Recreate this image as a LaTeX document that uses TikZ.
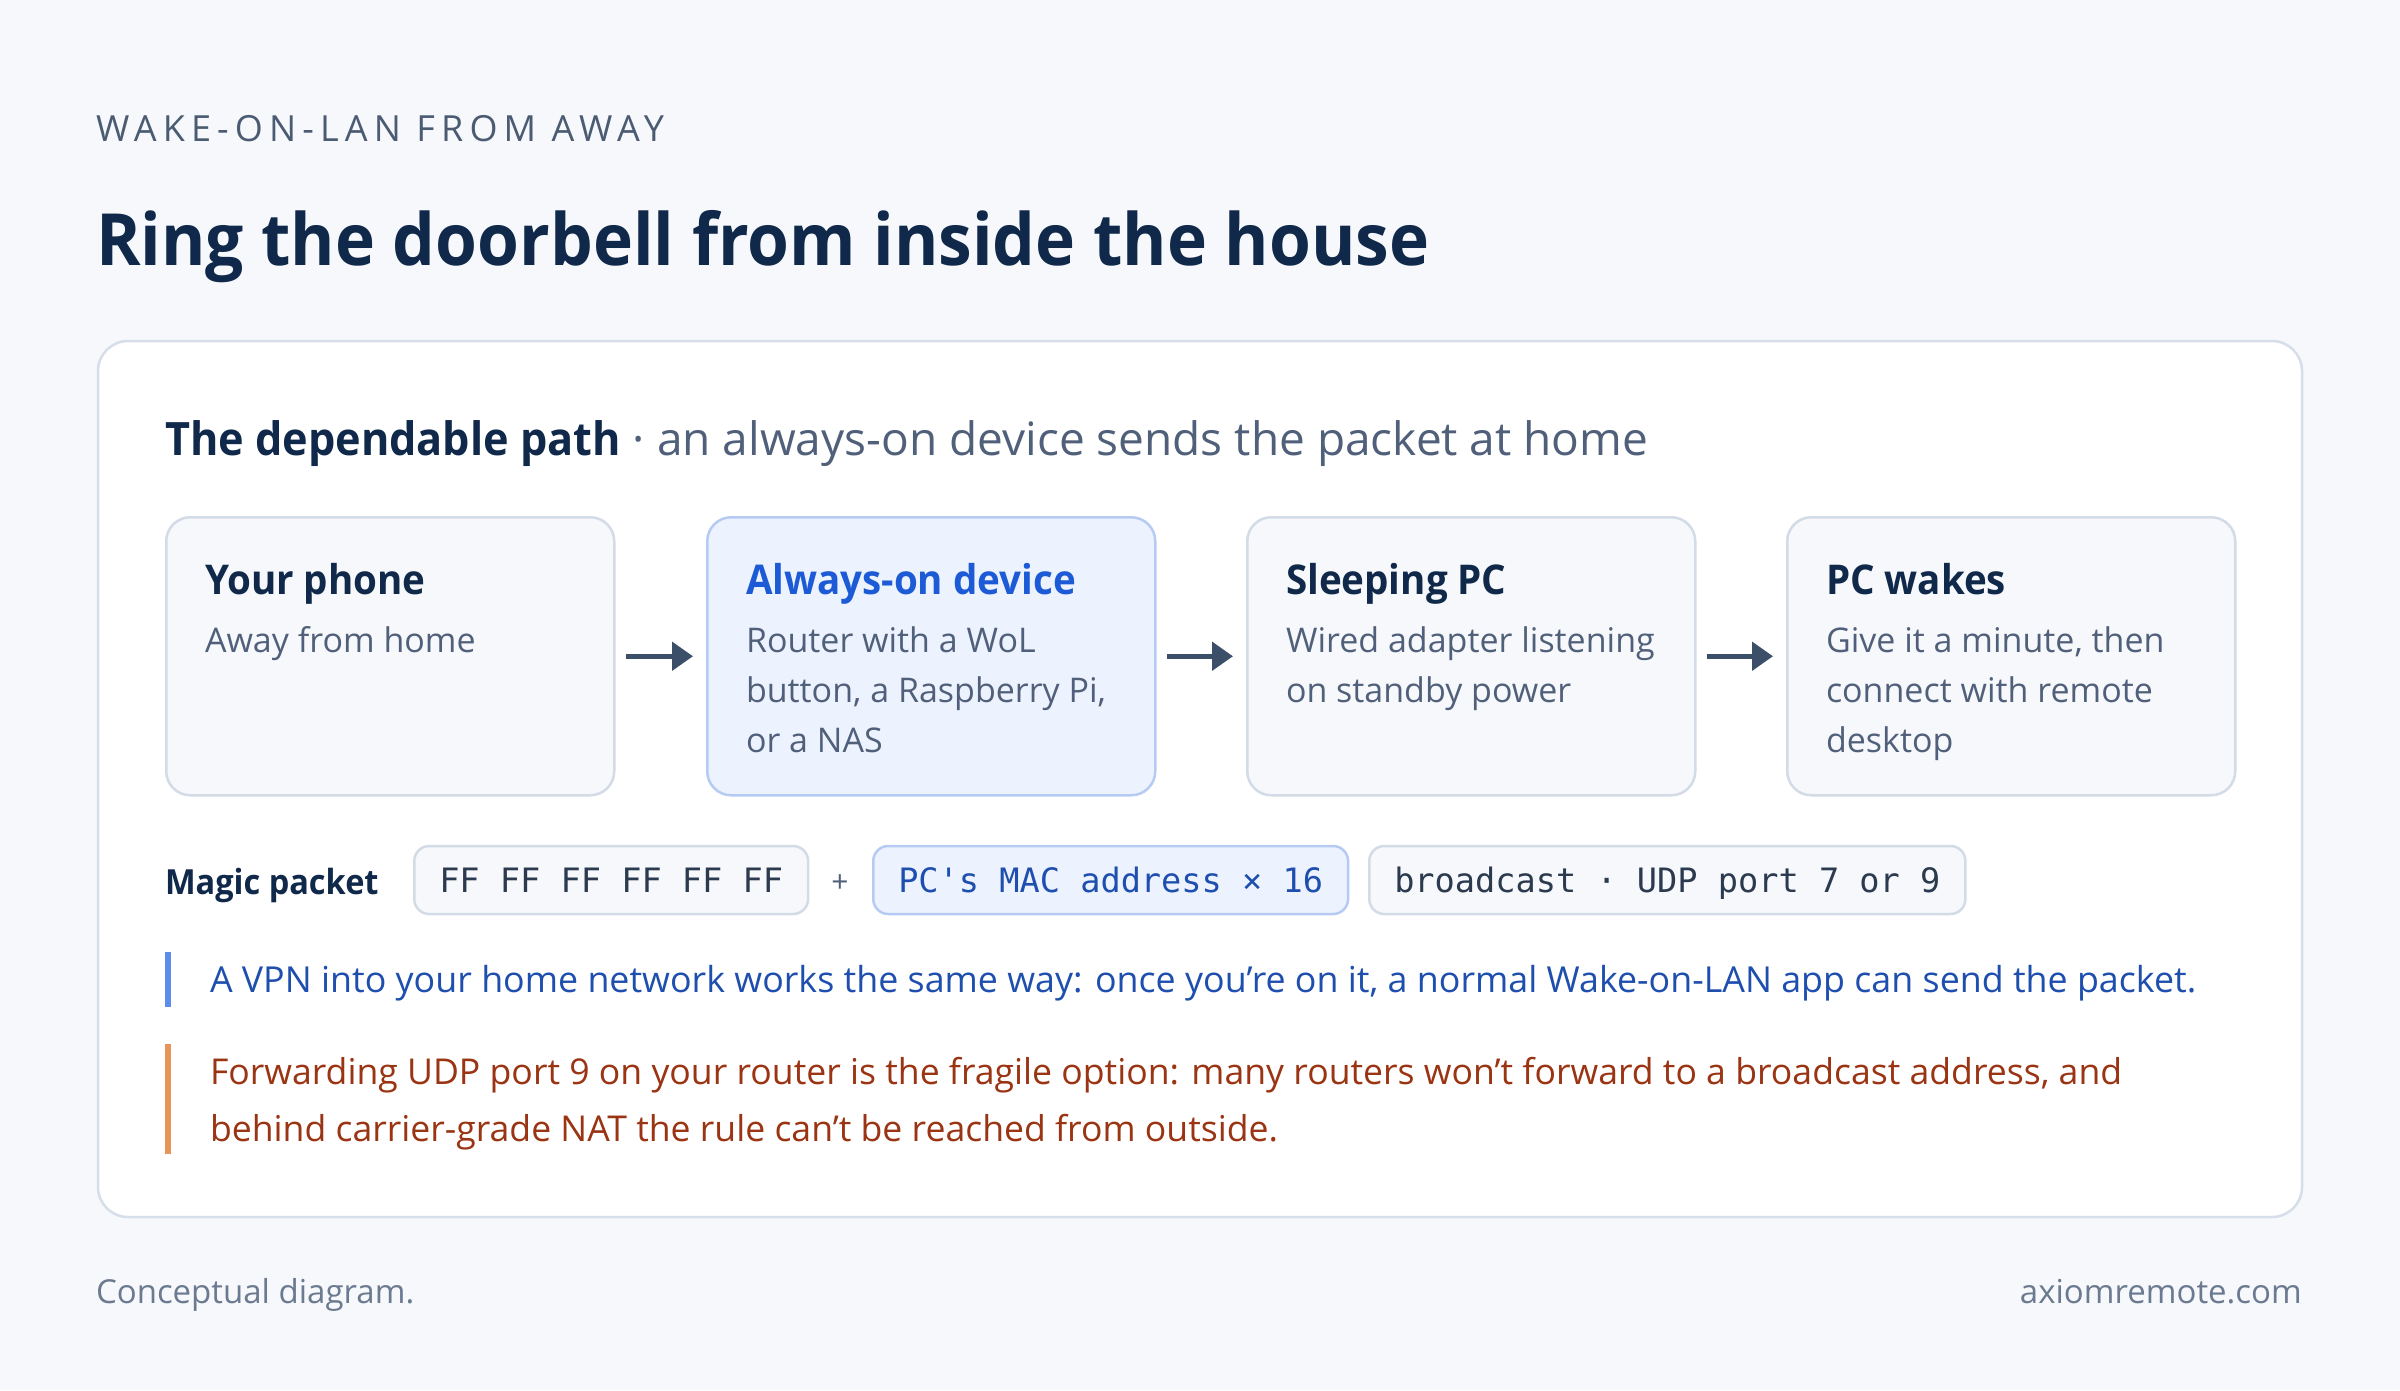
\documentclass[tikz,border=0pt]{standalone}
\usepackage{fontspec}
\setmainfont{Open Sans}[BoldFeatures={FakeStretch=0.94}]
\setmonofont{DejaVu Sans Mono}
\usetikzlibrary{arrows.meta}
\definecolor{bg}{HTML}{F6F8FB}
\definecolor{cardborder}{HTML}{D6DEEA}
\definecolor{navy}{HTML}{10294A}
\definecolor{slate}{HTML}{4A5B72}
\definecolor{greytext}{HTML}{51607A}
\definecolor{bluetitle}{HTML}{1D5BD6}
\definecolor{bluefill}{HTML}{EDF3FE}
\definecolor{blueborder}{HTML}{B5CBF3}
\definecolor{boxfill}{HTML}{F6F8FB}
\definecolor{boxborder}{HTML}{D3DBE7}
\definecolor{arrowc}{HTML}{3B4F69}
\definecolor{barblue}{HTML}{5B8DEF}
\definecolor{textblue}{HTML}{1E4FAE}
\definecolor{barorange}{HTML}{E8955A}
\definecolor{textrust}{HTML}{9A3412}
\definecolor{footgrey}{HTML}{6B7A90}
\definecolor{monotext}{HTML}{2B3A4E}
\newcommand{\fs}[2]{\fontsize{#1}{#2}\selectfont}
\newcommand{\lines}[1]{\begin{tabular}[t]{@{}l@{}}#1\end{tabular}}
\begin{document}
\begin{tikzpicture}[x=1pt,y=-1pt,
  txt/.style={anchor=base west,inner sep=0pt,outer sep=0pt},
  stepbox/.style={draw=boxborder,fill=boxfill,line width=2.5pt,rounded corners=24pt,minimum width=448pt,minimum height=278pt,anchor=north west,inner sep=0pt},
  hibox/.style={stepbox,draw=blueborder,fill=bluefill},
  pill/.style={draw=boxborder,fill=boxfill,line width=2.5pt,rounded corners=15pt,minimum height=68pt,inner xsep=25pt,inner ysep=0pt,text height=33pt,text depth=8pt,anchor=west,font=\ttfamily\fs{33.6}{40},text=monotext},
  hipill/.style={pill,draw=blueborder,fill=bluefill,text=textblue},
  flow/.style={draw=arrowc,line width=5pt,-{Triangle[length=21pt,width=28pt]}},
  steptitle/.style={txt,font=\bfseries\fs{41}{50},text=navy},
  steptext/.style={txt,font=\fs{34}{50},text=greytext}
]
\useasboundingbox (0,0) rectangle (2400,1390);
\fill[bg] (0,0) rectangle (2400,1390);

\node[txt,font=\fs{36}{40}\addfontfeatures{LetterSpace=17},text=slate] (eyebrow) at (96,141) {WAKE-ON-LAN FROM AWAY};
\node[txt,font=\bfseries\fs{72}{90},text=navy] (title) at (96,265) {Ring the doorbell from inside the house};

\draw[draw=cardborder,fill=white,line width=2.5pt,rounded corners=30pt] (98,341) rectangle (2302,1217);

\node[txt,font=\fs{46}{56},text=greytext] (heading) at (165,455) {\textcolor{navy}{\bfseries The dependable path} · an always-on device sends the packet at home};

\node[stepbox] (s1) at (165,516) {};
\node[hibox]   (s2) at (706,516) {};
\node[stepbox] (s3) at (1246,516) {};
\node[stepbox] (s4) at (1786,516) {};

\node[steptitle] (t1) at (205,594) {Your phone};
\node[steptext] (d1) at (205,652) {Away from home};
\node[steptitle,text=bluetitle] (t2) at (746,594) {Always-on device};
\node[steptext] (d2) at (746,652) {\lines{Router with a WoL\\button, a Raspberry Pi,\\or a NAS}};
\node[steptitle] (t3) at (1286,594) {Sleeping PC};
\node[steptext] (d3) at (1286,652) {\lines{Wired adapter listening\\on standby power}};
\node[steptitle] (t4) at (1826,594) {PC wakes};
\node[steptext] (d4) at (1826,652) {\lines{Give it a minute, then\\connect with remote\\desktop}};

\draw[flow,shorten <=10pt,shorten >=13pt] (s1.east) -- (s2.west);
\draw[flow,shorten <=10pt,shorten >=13pt] (s2.east) -- (s3.west);
\draw[flow,shorten <=10pt,shorten >=13pt] (s3.east) -- (s4.west);

\node[txt,font=\bfseries\fs{34.6}{40},text=navy] (magic) at (165,894) {Magic packet};
\node[pill] (p1) at (413,880) {FF FF FF FF FF FF};
\node[anchor=center,inner sep=0pt,font=\fs{30}{36},text=greytext] (plus) at (840,884) {+};
\node[hipill] (p2) at (872,880) {PC's MAC address × 16};
\node[pill] (p3) at (1368,880) {broadcast · UDP port 7 or 9};

\fill[barblue] (165,952) rectangle (171,1007);
\node[txt,font=\fs{35.8}{57},text=textblue] (n1) at (210,992) {A VPN into your home network works the same way: once you're on it, a normal Wake-on-LAN app can send the packet.};
\fill[barorange] (165,1044) rectangle (171,1154);
\node[txt,font=\fs{35.6}{57},text=textrust] (n2) at (210,1084) {\lines{Forwarding UDP port 9 on your router is the fragile option: many routers won't forward to a broadcast address, and\\behind carrier-grade NAT the rule can't be reached from outside.}};

\node[txt,font=\fs{33}{40},text=footgrey] (foot1) at (96,1303) {Conceptual diagram.};
\node[anchor=base east,inner sep=0pt,font=\fs{33}{40},text=footgrey] (foot2) at (2302,1303) {axiomremote.com};
\end{tikzpicture}
\end{document}
